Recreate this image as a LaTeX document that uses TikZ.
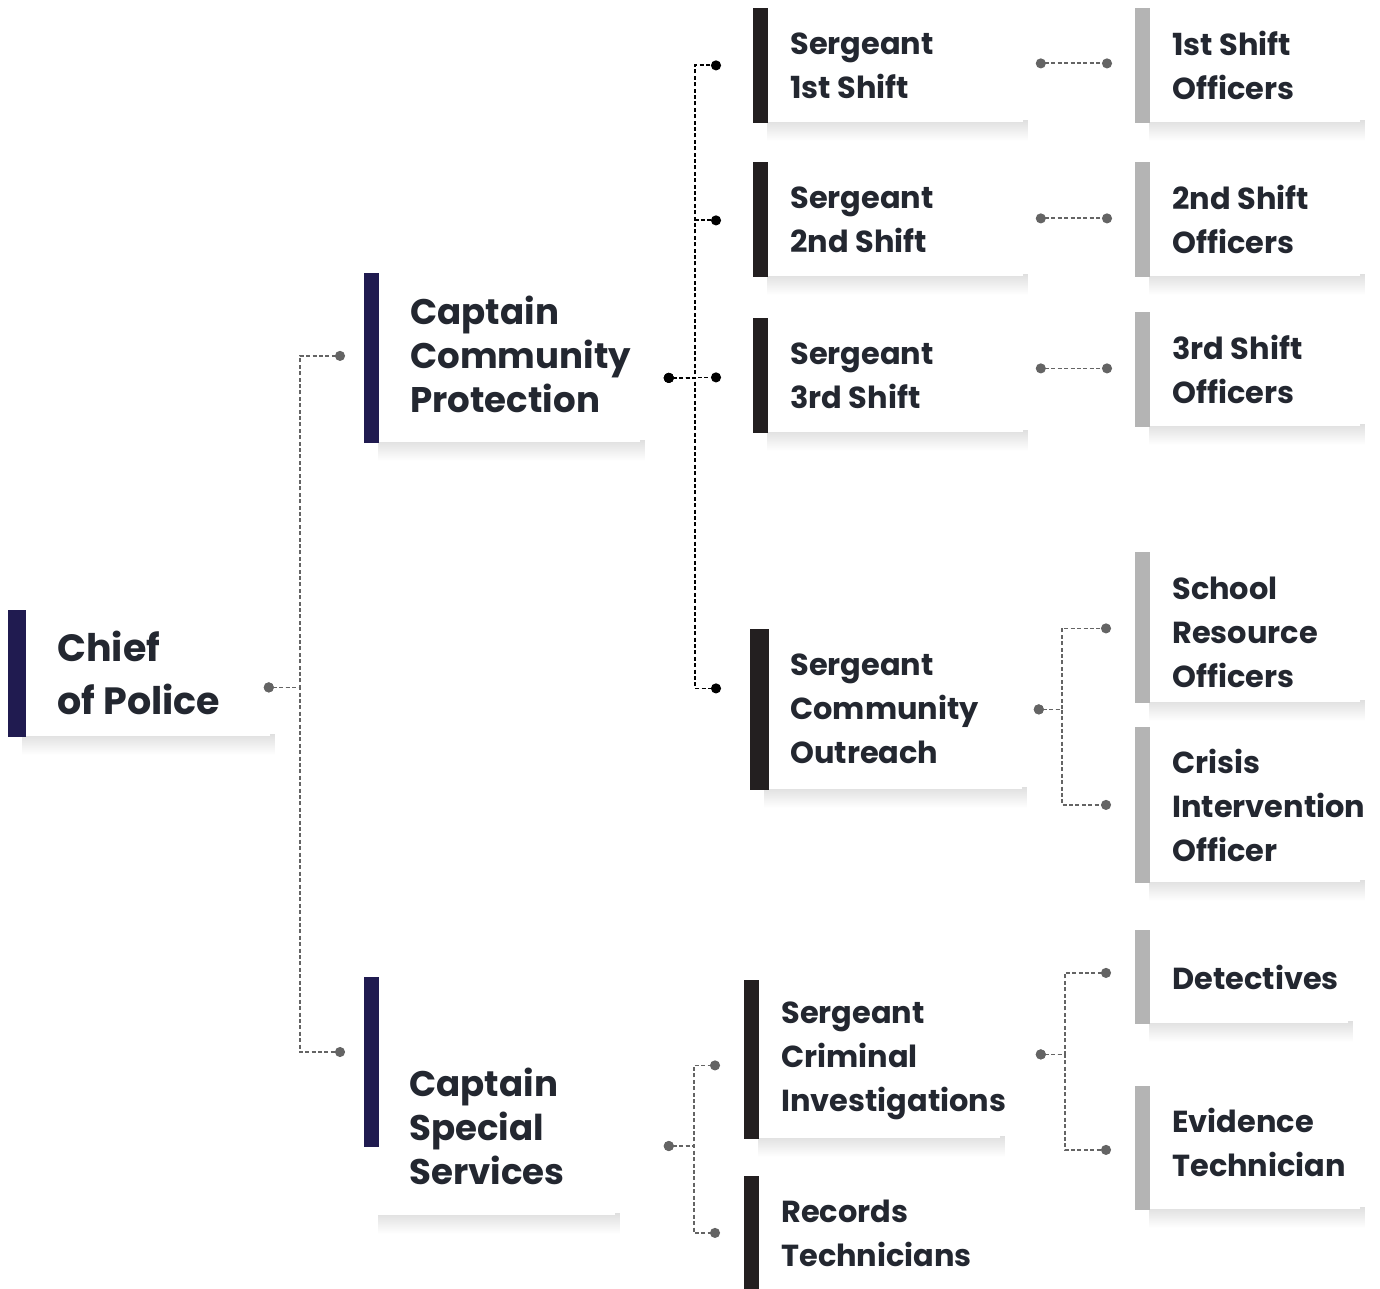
\documentclass[tikz,border=0pt]{standalone}
\usepackage{fontspec}
\setmainfont{Poppins}
\usetikzlibrary{calc,arrows.meta,backgrounds}

\definecolor{org-navy}{RGB}{32,27,80}
\definecolor{org-dark}{RGB}{35,31,32}
\definecolor{org-grey}{RGB}{180,180,180}
\definecolor{org-text}{RGB}{35,39,48}
\definecolor{org-link}{RGB}{100,100,100}

\begin{document}
\begin{tikzpicture}[x=0.5pt, y=-0.5pt,
  box/.style 2 args={anchor=north west, fill=white, inner sep=0pt, minimum width=#1*0.5pt, minimum height=#2*0.5pt},
  chief text/.style={anchor=west, align=left, inner sep=0pt, text=org-text, font=\fontsize{19}{26.5}\selectfont\bfseries},
  captain text/.style={anchor=west, align=left, inner sep=0pt, text=org-text, font=\fontsize{17.8}{22}\selectfont\bfseries},
  unit text/.style={anchor=west, align=left, inner sep=0pt, text=org-text, font=\fontsize{15.2}{22}\selectfont\bfseries},
  link/.style={draw=org-link, line width=0.9pt, dash pattern=on 2pt off 1.2pt, arrows={Circle[length=5pt]-Circle[length=5pt]}},
  link black/.style={link, draw=black},
]
\useasboundingbox (0,0) rectangle (1380,1289);

% Chief
\node[box={262}{126}] (chief) at (8,610) {};
\node[chief text] (chiefT) at ($(chief.west)+(49,0)$) {Chief\\of Police};

% Captains
\node[box={276}{169}] (capA) at (364,273) {};
\node[captain text] (capAT) at ($(capA.west)+(46,-4)$) {Captain\\Community\\Protection};
\node[box={251}{238}] (capB) at (364,977) {};
\node[captain text] (capBT) at ($(capB.west)+(45,30)$) {Captain\\Special\\Services};

% Sergeants
\node[box={270}{114}] (sgt1) at (753,8) {};
\node[unit text] (sgt1T) at ($(sgt1.west)+(37,0)$) {Sergeant\\1st Shift};
\node[box={270}{114}] (sgt2) at (753,162) {};
\node[unit text] (sgt2T) at ($(sgt2.west)+(37,0)$) {Sergeant\\2nd Shift};
\node[box={270}{114}] (sgt3) at (753,318) {};
\node[unit text] (sgt3T) at ($(sgt3.west)+(37,0)$) {Sergeant\\3rd Shift};
\node[box={272}{160}] (sgtC) at (750,629) {};
\node[unit text] (sgtCT) at ($(sgtC.west)+(40,-1)$) {Sergeant\\Community\\Outreach};
\node[box={256}{158}] (sgtI) at (744,980) {};
\node[unit text] (sgtIT) at ($(sgtI.west)+(37,1)$) {Sergeant\\Criminal\\Investigations};
\node[box={256}{113}] (rec) at (744,1176) {};
\node[unit text] (recT) at ($(rec.west)+(37,0)$) {Records\\Technicians};

% Officers
\node[box={225}{114}] (off1) at (1135,8) {};
\node[unit text] (off1T) at ($(off1.west)+(37,0)$) {1st Shift\\Officers};
\node[box={225}{114}] (off2) at (1135,162) {};
\node[unit text] (off2T) at ($(off2.west)+(37,0)$) {2nd Shift\\Officers};
\node[box={225}{114}] (off3) at (1135,312) {};
\node[unit text] (off3T) at ($(off3.west)+(37,0)$) {3rd Shift\\Officers};
\node[box={225}{150}] (sro) at (1135,552) {};
\node[unit text] (sroT) at ($(sro.west)+(37,5)$) {School\\Resource\\Officers};
\node[box={225}{155}] (cio) at (1135,727) {};
\node[unit text] (cioT) at ($(cio.west)+(37,1)$) {Crisis\\Intervention\\Officer};
\node[box={213}{93}] (det) at (1135,930) {};
\node[unit text] (detT) at ($(det.west)+(37,1)$) {Detectives};
\node[box={225}{123}] (evi) at (1135,1086) {};
\node[unit text] (eviT) at ($(evi.west)+(37,-5)$) {Evidence\\Technician};

% colour bars
\foreach \n/\c/\w in {chief/org-navy/18, capA/org-navy/15, sgt1/org-dark/15, sgt2/org-dark/15, sgt3/org-dark/15,
    sgtC/org-dark/19, sgtI/org-dark/15, rec/org-dark/15, off1/org-grey/15, off2/org-grey/15, off3/org-grey/15,
    sro/org-grey/15, cio/org-grey/15, det/org-grey/15, evi/org-grey/15}
  \fill[\c] (\n.north west) rectangle ($(\n.south west)+(\w,0)$);
\fill[org-navy] (capB.north west) rectangle ($(capB.north west)+(15,170)$);

% soft shadows
\begin{scope}[on background layer]
\foreach \n in {chief,capA,capB,sgt1,sgt2,sgt3,sgtC,sgtI,off1,off2,off3,sro,cio,det,evi}
  \shade[top color=black!12, bottom color=white]
    ($(\n.south west)+(14,-2)$) rectangle ($(\n.south east)+(4,18)$);
\end{scope}

% connectors
\draw[link] ($(chief.east)+(-7,14)$) -- ++(36,0) |- ($(capA.west)+(-19,-2)$);
\draw[link] ($(chief.east)+(-7,14)$) -- ++(36,0) |- ($(capB.north west)+(-19,75)$);

\foreach \n/\dx/\dy in {sgt1/-32/0, sgt2/-32/1, sgt3/-32/2, sgtC/-29/-21}
  \draw[link black] ($(capA.east)+(23,20)$) -- ++(31,0) |- ($(\n.west)+(\dx,\dy)$);

\draw[link] ($(capB.north east)+(48,169)$) -- ++(30,0) |- ($(sgtI.west)+(-24,6)$);
\draw[link] ($(capB.north east)+(48,169)$) -- ++(30,0) |- ($(rec.west)+(-24,0)$);

\foreach \a/\b/\da/\db in {sgt1/off1/-2/-2, sgt2/off2/-1/-1, sgt3/off3/-7/-1}
  \draw[link] ($(\a.east)+(12,\da)$) -- ($(\b.west)+(-23,\db)$);

\draw[link] ($(sgtC.east)+(11,0)$) -- ++(28,0) |- ($(sro.west)+(-24,1)$);
\draw[link] ($(sgtC.east)+(11,0)$) -- ++(28,0) |- ($(cio.west)+(-24,0)$);

\draw[link] ($(sgtI.east)+(35,-5)$) -- ++(29,0) |- ($(det.west)+(-24,-4)$);
\draw[link] ($(sgtI.east)+(35,-5)$) -- ++(29,0) |- ($(evi.west)+(-24,2)$);
\end{tikzpicture}
\end{document}
